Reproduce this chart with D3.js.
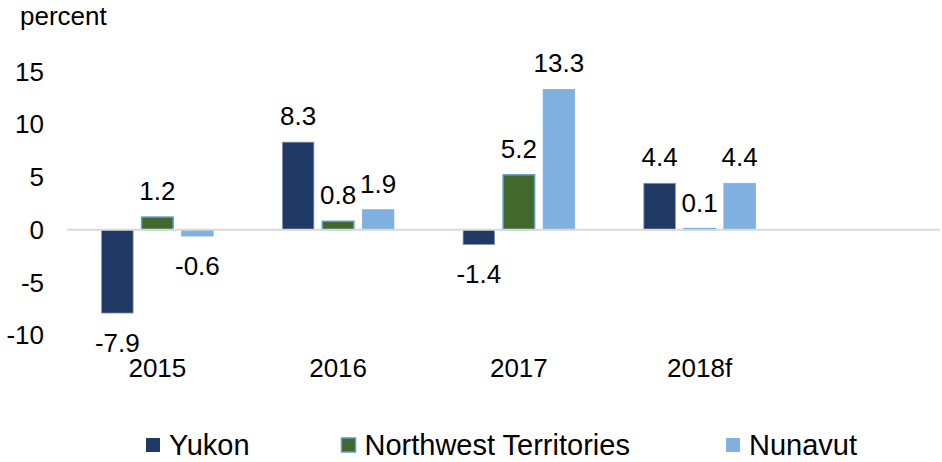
<!DOCTYPE html>
<html>
<head>
<meta charset="utf-8">
<script src="https://cdn.jsdelivr.net/npm/d3@7"></script>
<style>
  body { margin: 0; background: #fff; }
  text { font-family: "Liberation Sans", Arial, sans-serif; fill: #000; }
</style>
</head>
<body>
<div id="chart"></div>
<script>
const years = ["2015", "2016", "2017", "2018f"];
const seriesNames = ["Yukon", "Northwest Territories", "Nunavut"];
const yukon = [-7.9, 8.3, -1.4, 4.4];
const nwt = [1.2, 0.8, 5.2, 0.1];
const nunavut = [-0.6, 1.9, 13.3, 4.4];
const yTicks = [-10, -5, 0, 5, 10, 15];

const colors = ["#203864", "#43682b", "#7fb0df"];
const strokes = ["#8497b0", "#5b9bd5", "#7fb0df"];

const width = 942, height = 462;

const svg = d3.select("#chart")
  .append("svg")
  .attr("width", width)
  .attr("height", height);

const values = [yukon, nwt, nunavut];
const data = years.map((yr, i) => ({
  year: yr,
  vals: seriesNames.map((s, j) => ({ series: s, idx: j, v: values[j][i] }))
}));

const x = d3.scaleBand()
  .domain(years)
  .range([67, 790]);

const xs = d3.scaleBand()
  .domain(seriesNames)
  .range([34.6, x.bandwidth() - 34.6])
  .paddingInner(0.2125);

const y = d3.scaleLinear()
  .domain([-10, 15])
  .range([335.2, 71.5]);

// y labels (no axis line)
svg.append("g")
  .selectAll("text")
  .data(yTicks)
  .enter()
  .append("text")
  .attr("x", 44)
  .attr("y", d => y(d))
  .attr("dy", "0.35em")
  .attr("text-anchor", "end")
  .style("font-size", "26px")
  .text(d => d);

svg.append("text")
  .attr("x", 20)
  .attr("y", 25)
  .style("font-size", "26px")
  .text("percent");

// bars
const groups = svg.selectAll(".grp")
  .data(data)
  .enter()
  .append("g")
  .attr("class", "grp")
  .attr("transform", d => `translate(${x(d.year)},0)`);

groups.selectAll("rect")
  .data(d => d.vals)
  .enter()
  .append("rect")
  .attr("x", d => xs(d.series))
  .attr("width", xs.bandwidth())
  .attr("y", d => y(Math.max(0, d.v)))
  .attr("height", d => Math.abs(y(d.v) - y(0)))
  .attr("fill", d => colors[d.idx])
  .attr("stroke", d => strokes[d.idx])
  .attr("stroke-width", d => d.idx == 1 ? 1.5 : 0.8);

// zero line
svg.append("line")
  .attr("x1", 67)
  .attr("x2", 940)
  .attr("y1", y(0))
  .attr("y2", y(0))
  .attr("stroke", "#d9d9d9")
  .attr("stroke-width", 2);

// value labels
groups.selectAll(".val")
  .data(d => d.vals)
  .enter()
  .append("text")
  .attr("class", "val")
  .attr("x", d => xs(d.series) + xs.bandwidth() / 2)
  .attr("y", d => d.v >= 0 ? y(d.v) - 17 : y(d.v) + 39)
  .attr("text-anchor", "middle")
  .style("font-size", "26px")
  .text(d => d.v.toFixed(1));

// category labels
svg.append("g")
  .selectAll("text")
  .data(years)
  .enter()
  .append("text")
  .attr("x", d => x(d) + x.bandwidth() / 2)
  .attr("y", 377)
  .attr("text-anchor", "middle")
  .style("font-size", "26px")
  .text(d => d);

// legend
const legX = [146, 341.5, 726];
const legend = svg.selectAll(".leg")
  .data(seriesNames)
  .enter()
  .append("g")
  .attr("class", "leg")
  .attr("transform", (d, i) => `translate(${legX[i]},438)`);

legend.append("rect")
  .attr("width", 14)
  .attr("height", 14)
  .attr("fill", (d, i) => colors[i])
  .attr("stroke", (d, i) => i == 1 ? strokes[1] : "none")
  .attr("stroke-width", 1.5);

legend.append("text")
  .attr("x", 23)
  .attr("y", 17)
  .style("font-size", "29px")
  .text(d => d);
</script>
</body>
</html>
